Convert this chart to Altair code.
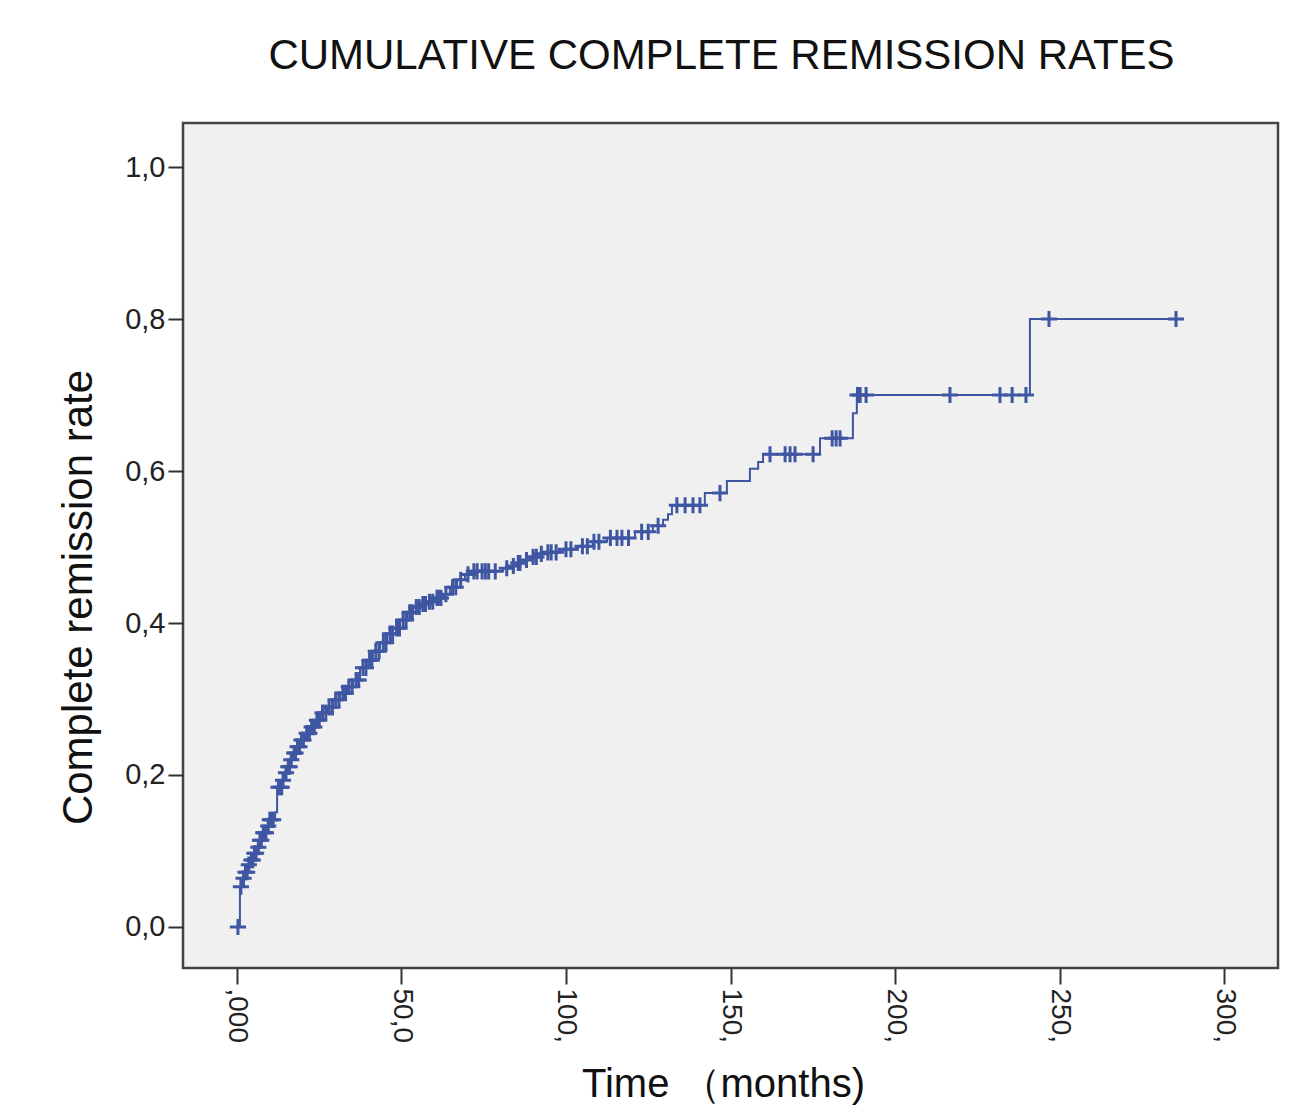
import bisect
import altair as alt
import pandas as pd

# ---- data ----
step_time = [0, 0.9, 1.8, 2.4, 3.3, 4.0, 4.9, 6.1, 7.0, 7.9,
             9.1, 10.0, 11.6, 12.2, 13.7, 14.6, 15.2, 16.1, 17.0, 17.9,
             19.1, 20.7, 22.2, 23.7, 25.2, 27.4, 29.2, 31.3, 33.4, 35.3,
             37.4, 39.5, 41.3, 43.5, 45.6, 47.4, 49.5, 51.7, 53.5, 55.6,
             57.8, 60.2, 62.6, 64.7, 66.9, 69.3, 71.4, 80.9, 83.0, 85.1,
             86.9, 89.1, 91.2, 93.6, 98.2, 103.3, 108.2, 112.5, 121.0, 126.4,
             129.5, 131.0, 132.2, 142.2, 148.9, 155.9, 158.4, 159.9, 177.2, 187.2,
             188.4, 241.0, 285.5]
step_rate = [0, 0.053, 0.064, 0.072, 0.082, 0.088, 0.097, 0.105, 0.114, 0.124,
             0.133, 0.141, 0.151, 0.184, 0.193, 0.203, 0.211, 0.220, 0.229, 0.237,
             0.246, 0.255, 0.263, 0.272, 0.282, 0.289, 0.299, 0.308, 0.316, 0.325,
             0.341, 0.351, 0.363, 0.374, 0.386, 0.393, 0.404, 0.414, 0.421, 0.425,
             0.428, 0.433, 0.438, 0.447, 0.457, 0.464, 0.468, 0.472, 0.475, 0.479,
             0.483, 0.487, 0.491, 0.493, 0.497, 0.501, 0.507, 0.512, 0.520, 0.528,
             0.536, 0.543, 0.555, 0.571, 0.587, 0.603, 0.612, 0.622, 0.643, 0.676,
             0.70, 0.80, 0.80]

censor_time = [0.3, 1.2, 2.0, 2.6, 3.1, 3.6, 4.4, 4.8, 5.3, 5.8,
               6.5, 7.0, 7.4, 8.0, 8.3, 8.8, 9.5, 10.0, 10.4, 11.0,
               12.6, 13.2, 13.6, 14.0, 14.9, 15.6, 16.0, 16.5, 17.4, 17.8,
               18.4, 19.0, 19.6, 20.2, 21.2, 22.0, 22.7, 23.5, 24.3, 25.0,
               26.0, 27.0, 28.0, 29.0, 30.0, 31.0, 32.2, 33.0, 34.0, 35.0,
               36.2, 37.0, 38.3, 39.2, 40.3, 41.0, 42.2, 43.2, 44.5, 45.3,
               46.5, 47.3, 48.5, 49.4, 50.5, 51.4, 52.5, 53.3, 54.5, 55.4,
               56.5, 57.3, 58.5, 59.5, 60.8, 61.2, 62.0, 63.5, 65.5, 66.5,
               68.0, 70.2, 72.0, 73.0, 74.5, 75.5, 76.5, 78.5, 82.0, 84.0,
               85.5, 86.0, 88.0, 90.0, 91.0, 92.5, 94.5, 95.5, 97.0, 100.0,
               101.5, 105.0, 106.5, 108.5, 110.0, 113.5, 115.5, 117.0, 119.0, 123.0,
               125.0, 128.0, 133.7, 136.2, 138.6, 140.7, 146.8, 162.0, 166.6, 168.1,
               169.6, 175.1, 180.9, 182.1, 183.3, 188.6, 189.4, 191.2, 216.7, 231.9,
               235.6, 239.8, 246.8, 285.4]

x_ticks = [0, 50, 100, 150, 200, 250, 300]
x_tick_labels = [",000", "50,0", "100,", "150,", "200,", "250,", "300,"]
y_ticks = [0.0, 0.2, 0.4, 0.6, 0.8, 1.0]

chart_title = "CUMULATIVE COMPLETE REMISSION RATES"
x_title = "Time （months)"
y_title = "Complete remission rate"

assert len(step_time) == len(step_rate)

line_df = pd.DataFrame({"time": step_time, "rate": step_rate})
cens_rate = [step_rate[bisect.bisect_right(step_time, c) - 1] for c in censor_time]
cens_df = pd.DataFrame({"time": censor_time, "rate": cens_rate})

FONT = "Liberation Sans"
BLUE = "#3F56A2"

xs = alt.Scale(domain=[-16.4, 316.4], nice=False, zero=False)
ys = alt.Scale(domain=[-0.054, 1.058], nice=False, zero=False)

x_label_expr = "[" + ",".join("'%s'" % s for s in x_tick_labels) + "][indexof([" + \
    ",".join(str(v) for v in x_ticks) + "], datum.value)]"

x_axis = alt.Axis(
    values=x_ticks, labelExpr=x_label_expr, labelAngle=90, labelAlign="left",
    labelBaseline="middle", labelFont=FONT, labelFontSize=28, labelColor="#222",
    labelPadding=4, tickSize=16, tickWidth=2, tickColor="#333", domain=False,
    grid=False, title=x_title, titleFont=FONT, titleFontSize=40,
    titleFontWeight="normal", titleColor="#111", titleX=540, titleY=128,
    titleAlign="center", titleBaseline="alphabetic",
)
y_axis = alt.Axis(
    values=y_ticks, labelExpr="replace(format(datum.value, '.1f'), '.', ',')",
    labelFont=FONT, labelFontSize=29, labelColor="#222", labelPadding=3,
    tickSize=15, tickWidth=2, tickColor="#333", domain=False, grid=False,
    title=y_title, titleFont=FONT, titleFontSize=42, titleFontWeight="normal",
    titleColor="#111", titleX=-105, titleY=474, titleAngle=270,
    titleAlign="center", titleBaseline="middle",
)

line = alt.Chart(line_df).mark_line(
    interpolate="step-after", color=BLUE, strokeWidth=2
).encode(
    x=alt.X("time:Q", scale=xs, axis=x_axis),
    y=alt.Y("rate:Q", scale=ys, axis=y_axis),
)

crosses = alt.Chart(cens_df).mark_point(
    shape="M-1,0L1,0M0,-1L0,1", filled=False, stroke=BLUE, strokeWidth=3,
    size=260, opacity=1,
).encode(
    x=alt.X("time:Q", scale=xs),
    y=alt.Y("rate:Q", scale=ys),
)

chart = (line + crosses).properties(
    width=1095, height=845,
    autosize=alt.AutoSizeParams(type="none"),
    padding={"left": 175, "top": 115, "right": 8, "bottom": 138},
    title=alt.TitleParams(
        chart_title, font=FONT, fontSize=42, fontWeight="normal", color="#111",
        anchor="middle", offset=45, dx=-9,
    ),
    background="white",
).configure_view(
    fill="#F0F0F0", stroke="#444", strokeWidth=2.5
)

chart.save("out.html", embed_options={"renderer": "svg", "actions": False})
